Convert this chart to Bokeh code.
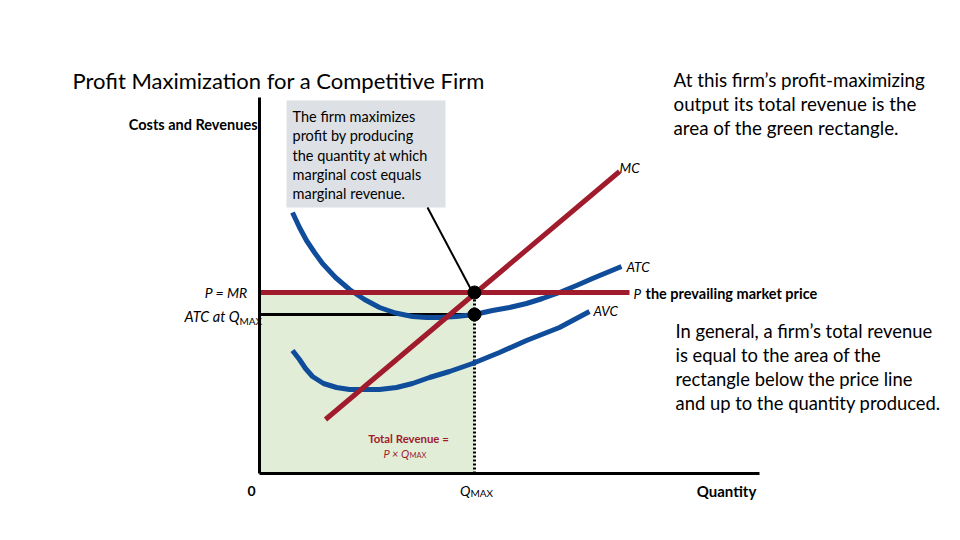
from bokeh.plotting import figure
from bokeh.models import Range1d
from bokeh.core.properties import value
from bokeh.embed import file_html
from bokeh.resources import INLINE

# ---- data (quantity, cost) ----
atc_q = [0.66, 0.80, 0.94, 1.10, 1.26, 1.52, 1.80, 2.10, 2.40, 2.72, 3.06, 3.34, 3.60,
         3.94, 4.30, 4.66, 5.00, 5.34, 5.66, 6.00, 6.34, 6.66, 7.24]
atc_c = [5.22, 4.92, 4.66, 4.42, 4.20, 3.92, 3.68, 3.48, 3.32, 3.21, 3.14, 3.12, 3.12,
         3.14, 3.18, 3.26, 3.32, 3.40, 3.50, 3.62, 3.76, 3.90, 4.14]
avc_q = [0.66, 0.80, 0.92, 1.06, 1.28, 1.54, 1.80, 2.06, 2.40, 2.74, 3.06, 3.40, 3.80,
         4.26, 4.80, 5.34, 6.00, 6.30, 6.60]
avc_c = [2.46, 2.28, 2.10, 1.94, 1.80, 1.72, 1.68, 1.68, 1.68, 1.72, 1.80, 1.92, 2.04,
         2.20, 2.42, 2.66, 2.92, 3.08, 3.24]
mc_q = [1.32, 7.20]
mc_c = [1.08, 6.04]
price = 3.62
price_end_q = 7.40
q_max = 4.30
atc_at_qmax = 3.18
axis_q_max = 10.0
axis_c_max = 7.52

RED = "#A01C2C"
BLUE = "#0F4C9A"
GREEN = "#E2EDD8"
FONT = "Lato"

p = figure(width=944, height=524, output_backend="svg", toolbar_location=None,
           x_range=Range1d(-5.18, 13.70), y_range=Range1d(-1.02, 9.46),
           min_border=0)
p.axis.visible = False
p.grid.visible = False
p.outline_line_color = None
p.background_fill_color = "white"

# total revenue rectangle
p.quad(left=[0], right=[q_max], bottom=[0], top=[price], fill_color=GREEN, line_color=None)

# callout box
p.quad(left=[0.54], right=[3.72], bottom=[5.32], top=[7.46], fill_color="#DDE0E4", line_color=None)
p.line([3.36, 4.22], [5.32, 3.70], line_color="black", line_width=2)

# ATC at QMAX line
p.line([-0.02, q_max], [atc_at_qmax, atc_at_qmax], line_color="black", line_width=3)
# dotted vertical at Q max
p.line([q_max, q_max], [0, price], line_color="black", line_width=3, line_dash="2 2")

# curves
p.line(avc_q, avc_c, line_color=BLUE, line_width=5, line_join="round")
p.line(atc_q, atc_c, line_color=BLUE, line_width=5, line_join="round")
p.line([0, price_end_q], [price, price], line_color=RED, line_width=5)
p.line(mc_q, mc_c, line_color=RED, line_width=5)

# axes
p.line([0, 0], [0, axis_c_max], line_color="black", line_width=3)
p.line([0, axis_q_max], [0, 0], line_color="black", line_width=3)

# dots
p.scatter([q_max, q_max], [price, atc_at_qmax], size=13, color="black")

def txt(x, y, s, size, align="left", style="normal", color="black", baseline="middle"):
    p.text(x=[x], y=[y], text=[s], text_font=value(FONT), text_font_size=f"{size}px",
           text_align=align, text_baseline=baseline, text_font_style=style, text_color=color)

txt(-3.74, 7.86, "Profit Maximization for a Competitive Firm", 22)
txt(-0.04, 6.98, "Costs and Revenues", 14.5, align="right", style="bold")

for y, s in zip([7.14, 6.76, 6.36, 5.98, 5.60],
                ["The firm maximizes", "profit by producing", "the quantity at which",
                 "marginal cost equals", "marginal revenue."]):
    txt(0.66, y, s, 14.5)

for y, s in zip([7.88, 7.40, 6.92],
                ["At this firm\u2019s profit-maximizing", "output its total revenue is the",
                 "area of the green rectangle."]):
    txt(8.28, y, s, 18.8)

for y, s in zip([2.86, 2.38, 1.90, 1.42],
                ["In general, a firm\u2019s total revenue", "is equal to the area of the",
                 "rectangle below the price line", "and up to the quantity produced."]):
    txt(8.32, y, s, 18.4)

txt(7.20, 6.12, "MC", 13.5, style="italic")
txt(7.34, 4.14, "ATC", 13.5, style="italic")
txt(6.68, 3.26, "AVC", 13.5, style="italic")
txt(7.48, 3.60, "P", 13.5, style="italic")
txt(7.72, 3.60, "the prevailing market price", 14.5, style="bold")

txt(-0.24, 3.62, "P = MR", 14, align="right", style="italic")
txt(-0.40, 3.14, "ATC at Q", 14.5, align="right", style="italic")
txt(-0.40, 3.06, "MAX", 10)

txt(2.98, 0.70, "Total Revenue =", 11.4, align="center", style="bold", color=RED)
txt(3.00, 0.40, "P \u00d7 Q", 11, align="right", style="italic", color=RED)
txt(3.00, 0.36, "MAX", 7.5, color=RED)

txt(-0.16, -0.34, "0", 14, align="center", style="bold")
txt(4.22, -0.34, "Q", 14, align="right", style="italic")
txt(4.22, -0.38, "MAX", 10)
txt(9.34, -0.34, "Quantity", 15, align="center", style="bold")

open("out.html", "w").write(file_html(p, INLINE))
